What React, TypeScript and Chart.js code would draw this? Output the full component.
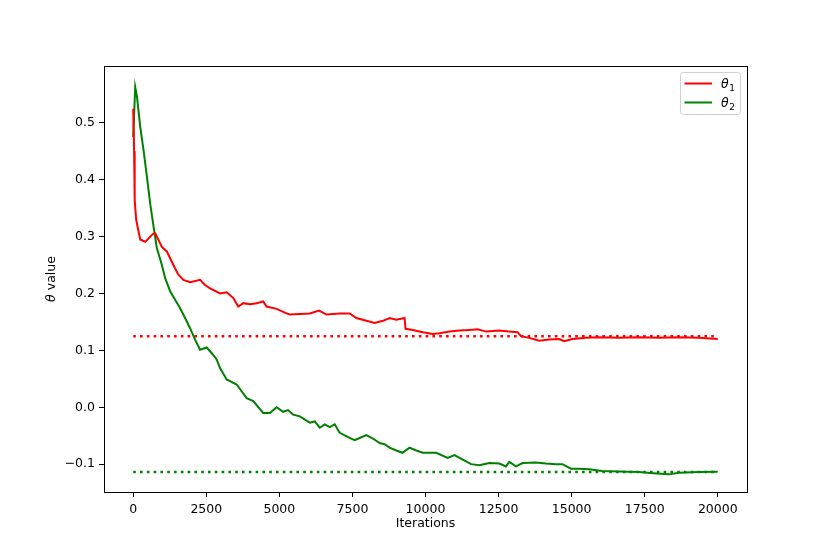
import React, { useEffect, useRef } from "react";
import { Chart, registerables } from "chart.js";

Chart.register(...registerables);

// ---- data ----
const theta1Iter = [
  0, 30, 50, 100, 170, 240, 410, 512, 580, 680, 750, 865, 980, 1150, 1263, 1433, 1546, 1717,
  1945, 2287, 2457, 2628, 2969, 3198, 3423, 3594, 3765, 3993, 4222, 4447, 4563, 4904, 5246,
  5358, 5700, 6041, 6358, 6611, 7065, 7406, 7635, 7976, 8259, 8543, 8771, 9000, 9283, 9317,
  9567, 9908, 10249, 10478, 10819, 11160, 11502, 11785, 12072, 12526, 12867, 13150, 13266,
  13549, 13891, 14232, 14573, 14744, 15027, 15485, 15939, 16621, 17304, 17986, 18669, 19352,
  20000,
];
const theta1Value = [
  0.525, 0.45, 0.365, 0.33, 0.312, 0.295, 0.291, 0.296, 0.3, 0.305, 0.306, 0.294, 0.282, 0.274,
  0.262, 0.244, 0.233, 0.224, 0.22, 0.224, 0.215, 0.209, 0.2, 0.202, 0.192, 0.177, 0.183,
  0.181, 0.183, 0.186, 0.177, 0.173, 0.165, 0.163, 0.164, 0.165, 0.17, 0.163, 0.165, 0.165,
  0.157, 0.152, 0.148, 0.152, 0.157, 0.154, 0.157, 0.138, 0.136, 0.132, 0.129, 0.13, 0.133,
  0.135, 0.136, 0.137, 0.133, 0.135, 0.133, 0.132, 0.125, 0.122, 0.117, 0.119, 0.12, 0.116,
  0.12, 0.122, 0.123, 0.122, 0.123, 0.122, 0.123, 0.122, 0.12,
];
const theta2Iter = [
  0, 68, 128, 240, 353, 469, 580, 694, 808, 980, 1092, 1263, 1433, 1604, 1775, 1945, 2116, 2287,
  2515, 2686, 2856, 2969, 3198, 3539, 3881, 4106, 4447, 4676, 4904, 5130, 5300, 5471, 5700,
  6041, 6212, 6382, 6553, 6724, 6894, 7065, 7406, 7577, 7747, 7976, 8201, 8430, 8601, 8771,
  9000, 9215, 9454, 9683, 9908, 10365, 10761, 10990, 11273, 11560, 11843, 12184, 12526, 12754,
  12867, 13096, 13321, 13778, 14119, 14461, 14686, 14973, 15256, 15597, 16041, 16621, 17304,
  17800, 18328, 18669, 19352, 20000,
];
const theta2Value = [
  0.475, 0.563, 0.546, 0.493, 0.452, 0.405, 0.358, 0.318, 0.28, 0.25, 0.227, 0.204, 0.189,
  0.174, 0.157, 0.139, 0.119, 0.101, 0.105, 0.095, 0.084, 0.069, 0.049, 0.04, 0.016, 0.011,
  -0.01, -0.01, 0.0, -0.008, -0.005, -0.013, -0.016, -0.027, -0.025, -0.036, -0.03, -0.035,
  -0.03, -0.045, -0.054, -0.058, -0.054, -0.049, -0.055, -0.063, -0.065, -0.071, -0.076,
  -0.08, -0.071, -0.076, -0.08, -0.08, -0.089, -0.084, -0.092, -0.1, -0.102, -0.098, -0.099,
  -0.104, -0.096, -0.104, -0.098, -0.097, -0.099, -0.1, -0.1, -0.108, -0.108, -0.109, -0.112,
  -0.113, -0.114, -0.116, -0.118, -0.115, -0.114, -0.1135,
];
const targetIter = [0, 20000];
const theta1Target = [0.125, 0.125];
const theta2Target = [-0.114, -0.114];

const xTicks = [0, 2500, 5000, 7500, 10000, 12500, 15000, 17500, 20000];
const yTicks = [-0.1, 0.0, 0.1, 0.2, 0.3, 0.4, 0.5];

const RED = "#ff0000";
const GREEN = "#008000";
const FONT = "'DejaVu Sans', sans-serif";

const pts = (xs: number[], ys: number[]) => xs.map((x, i) => ({ x, y: ys[i] }));

const overlayPlugin = {
  id: "overlay",
  afterDraw(chart: any) {
    const { ctx, chartArea } = chart;
    const { left, right, top, bottom } = chartArea;
    ctx.save();
    // frame (all four spines)
    ctx.strokeStyle = "#000";
    ctx.lineWidth = 1;
    ctx.strokeRect(Math.round(left) + 0.5, Math.round(top) + 0.5, Math.round(right - left), Math.round(bottom - top));

    // x title
    ctx.fillStyle = "#000";
    ctx.font = `12.5px ${FONT}`;
    ctx.textAlign = "center";
    ctx.textBaseline = "middle";
    ctx.fillText("Iterations", (left + right) / 2, 524);

    // y title: italic theta + " value"
    ctx.save();
    ctx.translate(52, (top + bottom) / 2);
    ctx.rotate(-Math.PI / 2);
    ctx.font = `italic 12.5px ${FONT}`;
    const wTheta = ctx.measureText("θ").width;
    ctx.font = `12.5px ${FONT}`;
    const wRest = ctx.measureText(" value").width;
    const start = -(wTheta + wRest) / 2;
    ctx.textAlign = "left";
    ctx.font = `italic 12.5px ${FONT}`;
    ctx.fillText("θ", start, 0);
    ctx.font = `12.5px ${FONT}`;
    ctx.fillText(" value", start + wTheta, 0);
    ctx.restore();

    // legend
    const bx = 680.5, by = 72.5, bw = 60, bh = 42, r = 3;
    ctx.beginPath();
    ctx.moveTo(bx + r, by);
    ctx.lineTo(bx + bw - r, by);
    ctx.arcTo(bx + bw, by, bx + bw, by + r, r);
    ctx.lineTo(bx + bw, by + bh - r);
    ctx.arcTo(bx + bw, by + bh, bx + bw - r, by + bh, r);
    ctx.lineTo(bx + r, by + bh);
    ctx.arcTo(bx, by + bh, bx, by + bh - r, r);
    ctx.lineTo(bx, by + r);
    ctx.arcTo(bx, by, bx + r, by, r);
    ctx.closePath();
    ctx.fillStyle = "rgba(255,255,255,0.8)";
    ctx.fill();
    ctx.strokeStyle = "#d0d0d0";
    ctx.lineWidth = 1;
    ctx.stroke();

    const items = [
      { color: RED, sub: "1", y: 83.5 },
      { color: GREEN, sub: "2", y: 102.5 },
    ];
    items.forEach((it) => {
      ctx.strokeStyle = it.color;
      ctx.lineWidth = 2;
      ctx.beginPath();
      ctx.moveTo(684.5, it.y);
      ctx.lineTo(712, it.y);
      ctx.stroke();
      ctx.fillStyle = "#000";
      ctx.textAlign = "left";
      ctx.textBaseline = "alphabetic";
      ctx.font = `italic 12.5px ${FONT}`;
      ctx.fillText("θ", 721, it.y + 4.5);
      const w = ctx.measureText("θ").width;
      ctx.font = `9px ${FONT}`;
      ctx.fillText(it.sub, 721 + w + 0.5, it.y + 7);
    });
    ctx.restore();
  },
};

export default function App() {
  const ref = useRef<HTMLCanvasElement | null>(null);
  useEffect(() => {
    if (!ref.current) return;
    const chart = new Chart(ref.current, {
      type: "line",
      data: {
        datasets: [
          {
            label: "θ1",
            data: pts(theta1Iter, theta1Value),
            borderColor: RED,
            borderWidth: 2,
            pointRadius: 0,
            tension: 0,
          },
          {
            label: "θ2",
            data: pts(theta2Iter, theta2Value),
            borderColor: GREEN,
            borderWidth: 2,
            pointRadius: 0,
            tension: 0,
          },
          {
            label: "θ1 target",
            data: pts(targetIter, theta1Target),
            borderColor: RED,
            borderWidth: 2.5,
            borderDash: [2.6, 4.2],
            pointRadius: 0,
          },
          {
            label: "θ2 target",
            data: pts(targetIter, theta2Target),
            borderColor: GREEN,
            borderWidth: 2.5,
            borderDash: [2.6, 4.2],
            pointRadius: 0,
          },
        ],
      },
      options: {
        animation: false,
        responsive: false,
        layout: { padding: { left: 0, top: 66, right: 83, bottom: 0 } },
        plugins: { legend: { display: false }, tooltip: { enabled: false } },
        scales: {
          x: {
            type: "linear",
            min: -1000,
            max: 21000,
            afterBuildTicks: (s: any) => {
              s.ticks = xTicks.map((v) => ({ value: v }));
            },
            afterFit: (s: any) => {
              s.height = 62;
            },
            grid: {
              display: true,
              drawOnChartArea: false,
              drawTicks: true,
              tickLength: 5,
              color: "#000",
              lineWidth: 1,
            },
            border: { display: true, color: "#000", width: 1 },
            ticks: {
              color: "#000",
              font: { family: FONT, size: 12.5 },
              padding: 5,
              maxRotation: 0,
              autoSkip: false,
              callback: (v: any) => String(v),
            },
          },
          y: {
            type: "linear",
            min: -0.149,
            max: 0.6,
            afterBuildTicks: (s: any) => {
              s.ticks = yTicks.map((v) => ({ value: v }));
            },
            afterFit: (s: any) => {
              s.width = 104;
            },
            grid: {
              display: true,
              drawOnChartArea: false,
              drawTicks: true,
              tickLength: 5,
              color: "#000",
              lineWidth: 1,
            },
            border: { display: true, color: "#000", width: 1 },
            ticks: {
              color: "#000",
              font: { family: FONT, size: 12.5 },
              padding: 4,
              autoSkip: false,
              callback: (v: any) => Number(v).toFixed(1).replace("-", "\u2212"),
            },
          },
        },
      },
      plugins: [overlayPlugin],
    });
    return () => chart.destroy();
  }, []);
  return (
    <div style={{ position: "absolute", left: 0, top: 0, width: 830, height: 554, background: "#fff" }}>
      <canvas ref={ref} width={830} height={554} style={{ display: "block" }} />
    </div>
  );
}
